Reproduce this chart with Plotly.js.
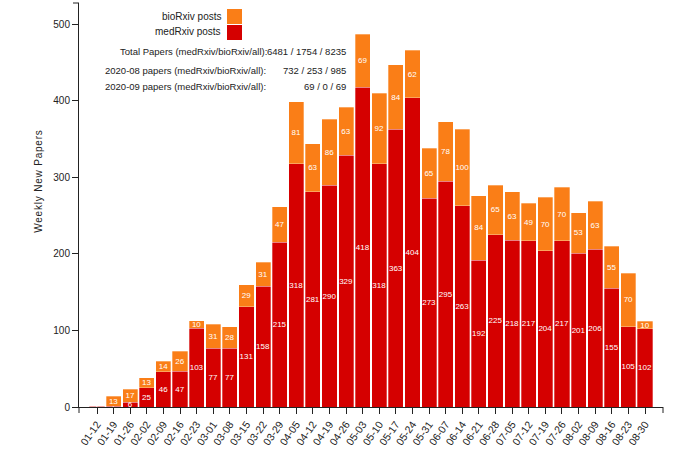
<!DOCTYPE html>
<html>
<head>
<meta charset="utf-8">
<script src="https://cdn.plot.ly/plotly-3.0.1.min.js"></script>
<style>
html,body{margin:0;padding:0;background:#fff;}
#chart{width:680px;height:454px;}
</style>
</head>
<body>
<div id="chart"></div>
<script>
var weeks = ["01-12","01-19","01-26","02-02","02-09","02-16","02-23","03-01","03-08","03-15","03-22","03-29","04-05","04-12","04-19","04-26","05-03","05-10","05-17","05-24","05-31","06-07","06-14","06-21","06-28","07-05","07-12","07-19","07-26","08-02","08-09","08-16","08-23","08-30"];
var medRxiv = [1,1,6,25,46,47,103,77,77,131,158,215,318,281,290,329,418,318,363,404,273,295,263,192,225,218,217,204,217,201,206,155,105,102];
var bioRxiv = [0,13,17,13,14,26,10,31,28,29,31,47,81,63,86,63,69,92,84,62,65,78,100,84,65,63,49,70,70,53,63,55,70,10];
var statLabels = ["Total Papers (medRxiv/bioRxiv/all):","2020-08 papers (medRxiv/bioRxiv/all):","2020-09 papers (medRxiv/bioRxiv/all):"];
var statValues = ["6481 / 1754 / 8235","732 / 253 / 985","69 / 0 / 69"];
var seriesNames = ["bioRxiv posts","medRxiv posts"];
var yTitle = "Weekly New Papers";

var RED = "#d50000", ORANGE = "#fa7e17";
var FONT = "Liberation Sans, Arial, Helvetica, sans-serif";

// plot area in pixels
var L = 79, R = 663, T = 3, B = 407;
function px(x){ return (x - L) / (R - L); }
function py(y){ return (B - y) / (B - T); }

function labels(arr){ return arr.map(function(v){ return v > 0 ? String(v) : ""; }); }

var common = {
  type: "bar",
  x: weeks,
  textposition: "inside",
  insidetextanchor: "middle",
  constraintext: "none",
  textangle: 0,
  textfont: {family: FONT, size: 8, color: "#ffffff"},
  hoverinfo: "none",
  showlegend: false
};

var traces = [
  Object.assign({}, common, {name: seriesNames[1], y: medRxiv, text: labels(medRxiv),
    marker: {color: RED, line: {color: "#ffffff", width: 0.3}}}),
  Object.assign({}, common, {name: seriesNames[0], y: bioRxiv, text: labels(bioRxiv),
    marker: {color: ORANGE, line: {color: "#ffffff", width: 0.3}}})
];

var annotations = [];
// legend texts
annotations.push({xref:"paper", yref:"paper", x: px(223), y: py(16), xanchor:"right", yanchor:"middle",
  text: seriesNames[0], showarrow:false, font:{family:FONT, size:10, color:"#222"}});
annotations.push({xref:"paper", yref:"paper", x: px(223), y: py(32), xanchor:"right", yanchor:"middle",
  text: seriesNames[1], showarrow:false, font:{family:FONT, size:10, color:"#222"}});
// stats
var statY = [51.5, 70, 87];
var labelRight = [269, 268, 268];
for (var i = 0; i < statLabels.length; i++) {
  annotations.push({xref:"paper", yref:"paper", x: px(labelRight[i]), y: py(statY[i]), xanchor:"right", yanchor:"middle",
    text: statLabels[i], showarrow:false, font:{family:FONT, size:9.5, color:"#222"}});
  annotations.push({xref:"paper", yref:"paper", x: px(348), y: py(statY[i]), xanchor:"right", yanchor:"middle",
    text: statValues[i], showarrow:false, font:{family:FONT, size:9.5, color:"#222"}});
}
// y title
annotations.push({xref:"paper", yref:"paper", x: px(39), y: py(181), xanchor:"center", yanchor:"middle",
  textangle: -90, text: yTitle, showarrow:false, font:{family:FONT, size:10, color:"#222"}});

var tx = 6 / (R - L), ty = 6 / (B - T);
var shapes = [
  {type:"rect", xref:"paper", yref:"paper", x0: px(227), x1: px(242), y0: py(24), y1: py(9), fillcolor: ORANGE, line:{width:0}},
  {type:"rect", xref:"paper", yref:"paper", x0: px(227), x1: px(242), y0: py(40), y1: py(25), fillcolor: RED, line:{width:0}},
  // outer ticks of the axis domains
  {type:"line", xref:"paper", yref:"paper", x0: 1, x1: 1, y0: 0, y1: -ty, line:{color:"#222", width:1}},
  {type:"line", xref:"paper", yref:"paper", x0: 0, x1: 0, y0: 0, y1: -ty, line:{color:"#222", width:1}},
  {type:"line", xref:"paper", yref:"paper", x0: 0, x1: -tx, y0: 1, y1: 1, line:{color:"#222", width:1}}
];

var layout = {
  width: 680, height: 454,
  margin: {l: L, r: 680 - R, t: T, b: 454 - B, pad: 0},
  paper_bgcolor: "#fff", plot_bgcolor: "#fff",
  barmode: "stack",
  bargap: 0.09,
  hovermode: false,
  font: {family: FONT, size: 10, color: "#222"},
  xaxis: {
    type: "category",
    range: [-1.084, 34.084],
    showgrid: false, zeroline: false,
    showline: true, linecolor: "#222", linewidth: 1,
    ticks: "outside", ticklen: 6, tickcolor: "#222", tickwidth: 1,
    tickangle: -55,
    tickfont: {family: FONT, size: 10.5, color: "#222"},
    fixedrange: true
  },
  yaxis: {
    range: [0, 528],
    tickvals: [0,100,200,300,400,500],
    showgrid: false, zeroline: false,
    showline: true, linecolor: "#222", linewidth: 1,
    ticks: "outside", ticklen: 6, tickcolor: "#222", tickwidth: 1,
    tickfont: {family: FONT, size: 10, color: "#222"},
    fixedrange: true
  },
  annotations: annotations,
  shapes: shapes
};

Plotly.newPlot("chart", traces, layout, {displayModeBar: false, staticPlot: true}).then(function(){
  var texts = document.querySelectorAll(".annotation-text");
  texts.forEach(function(t){
    if (t.textContent === yTitle) { t.style.letterSpacing = "0.8px"; }
  });
});
</script>
</body>
</html>
